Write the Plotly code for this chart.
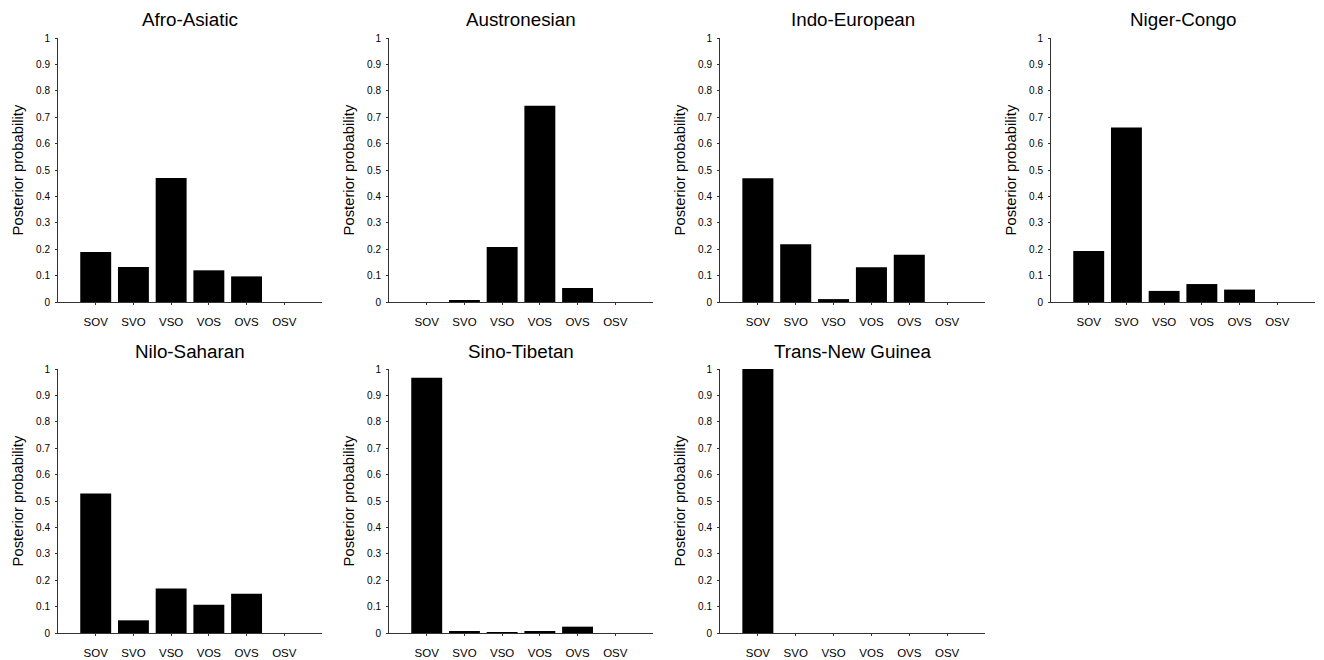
import plotly.graph_objects as go

orders = ["SOV", "SVO", "VSO", "VOS", "OVS", "OSV"]

afro_asiatic = [0.189, 0.133, 0.470, 0.120, 0.097, 0.0]
austronesian = [0.0, 0.005, 0.208, 0.743, 0.053, 0.0]
indo_european = [0.469, 0.219, 0.011, 0.132, 0.179, 0.0]
niger_congo = [0.193, 0.661, 0.042, 0.068, 0.047, 0.0]
nilo_saharan = [0.528, 0.048, 0.169, 0.107, 0.149, 0.0]
sino_tibetan = [0.967, 0.006, 0.002, 0.004, 0.024, 0.0]
trans_new_guinea = [1.0, 0.0, 0.0, 0.0, 0.0, 0.0]

families = ["Afro-Asiatic", "Austronesian", "Indo-European", "Niger-Congo",
            "Nilo-Saharan", "Sino-Tibetan", "Trans-New Guinea"]
series = [afro_asiatic, austronesian, indo_european, niger_congo,
          nilo_saharan, sino_tibetan, trans_new_guinea]

y_ticks = [0, 0.1, 0.2, 0.3, 0.4, 0.5, 0.6, 0.7, 0.8, 0.9, 1]
y_ticktext = ["0", "0.1", "0.2", "0.3", "0.4", "0.5", "0.6", "0.7", "0.8", "0.9", "1"]

W, H = 1324, 660
x_px = [(58, 322), (389, 653), (720, 985), (1051, 1315)]
y_px = [(38, 302), (369, 633)]

FONT = "Liberation Sans, Arial, sans-serif"
AXC = "#333333"

fig = go.Figure()
layout = dict(
    template="none",
    width=W, height=H,
    margin=dict(l=0, r=0, t=0, b=0, pad=0),
    paper_bgcolor="white", plot_bgcolor="white",
    showlegend=False,
    font=dict(family=FONT, color="black"),
)
annotations = []
for i, (name, vals) in enumerate(zip(families, series)):
    row, col = divmod(i, 4)
    n = i + 1
    xa = "x" if n == 1 else f"x{n}"
    ya = "y" if n == 1 else f"y{n}"
    fig.add_trace(go.Bar(
        x=list(range(len(orders))), y=vals, xaxis=xa, yaxis=ya,
        marker=dict(color="black", line=dict(color="black", width=0)),
        width=0.82, hoverinfo="x+y",
    ))
    x0, x1 = x_px[col]
    yt, yb = y_px[row]
    xd = [x0 / W, x1 / W]
    yd = [1 - yb / H, 1 - yt / H]
    layout["xaxis" if n == 1 else f"xaxis{n}"] = dict(
        domain=xd, anchor=ya, range=[-1, 6], automargin=False,
        tickmode="array", tickvals=list(range(len(orders))), ticktext=orders,
        showline=True, linecolor=AXC, linewidth=1,
        ticks="outside", ticklen=2, tickcolor=AXC, tickwidth=1,
        showgrid=False, zeroline=False,
        tickfont=dict(size=11.5, family=FONT, color="black"),
        ticklabelstandoff=7, fixedrange=True,
    )
    layout["yaxis" if n == 1 else f"yaxis{n}"] = dict(
        domain=yd, anchor=xa, range=[0, 1], automargin=False,
        tickmode="array", tickvals=y_ticks, ticktext=y_ticktext,
        showline=True, linecolor=AXC, linewidth=1,
        ticks="outside", ticklen=2, tickcolor=AXC, tickwidth=1,
        showgrid=False, zeroline=False,
        tickfont=dict(size=10, family=FONT, color="black"),
        ticklabelstandoff=3,
        title=dict(text="Posterior probability", font=dict(size=14.8, family=FONT, color="black"), standoff=8),
        fixedrange=True,
    )
    annotations.append(dict(
        text=name, x=(xd[0] + xd[1]) / 2, y=1 - (yt - 18) / H,
        xref="paper", yref="paper", showarrow=False,
        xanchor="center", yanchor="middle",
        font=dict(size=18.8, family=FONT, color="black"),
    ))
layout["annotations"] = annotations
fig.update_layout(**layout)
fig.write_html(
    "out.html",
    config={"displayModeBar": False},
    post_script="document.body.style.margin='0';document.body.style.overflow='hidden';",
)
